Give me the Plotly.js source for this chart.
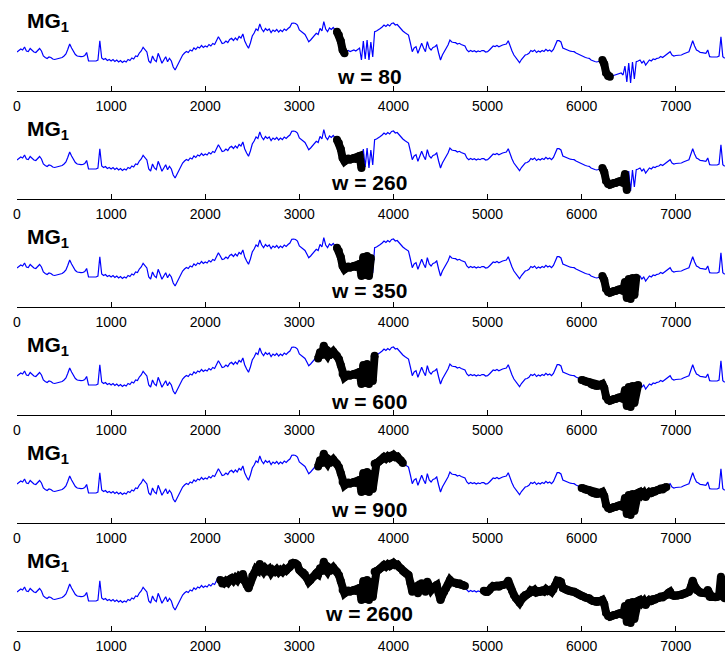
<!DOCTYPE html>
<html><head><meta charset="utf-8">
<script src="https://cdn.plot.ly/plotly-3.0.1.min.js"></script>
<style>html,body{margin:0;padding:0;background:#fff}</style>
</head><body><div id="chart" style="width:725px;height:653px"></div>
<script>
// sampled MG1 signal, one value every T_STEP time steps, starting at t = 0
const T_STEP = 20;
const signal = [
39,40.5,42,41,44,40,39.5,42.5,41,39,38.5,41,42.5,40,35,33.5,32.5,34,33.5,32,
31.5,32,32.5,32.7,33.5,35,37,41.7,47,43,39,36.5,35,34.5,34.3,34.5,35.5,38.5,30,30,
30,30,30,31,50.3,33,31.5,32.5,30.5,31.5,30,31.5,29.5,31,29,30.5,28.5,30,29,31.5,
30.5,33,32,35,34.5,38,40,43.7,41,39,30,28,35,31,29.3,37.7,33,27.7,31,34.3,
29.3,32.7,30,24,21,25,28,32,36,38,39.5,38.5,41,40,43,41.5,44,43,45.5,43.5,
45,44,46.5,45,47.5,46.5,50,54.3,51,47.5,48,50,48.5,51.5,52.7,50.5,53,51,54.5,53,
57,50,46,42.7,48,55,58,62,60.5,67,62,59.3,62.5,60.5,62,58.3,61,59.5,61.5,59,
61,59.3,62,60.5,62.5,64,67.7,68,67.5,66,61,59.3,58.5,56.5,53,49.3,51,53.5,55,57.7,
56.5,62.7,60,69.3,62,59.3,63,61.5,63.5,61,59.3,56,50,41,37.7,39.3,40.5,39.5,40.3,41,
40,41.7,43,31,50,32,51,31,49,34,59.3,60,61,62.5,64,66,64.5,66.5,65,67.5,
68,66,66.5,64,62.5,60,58.5,57,56,48,39.3,43,44.3,37.7,42,47.7,43,39.3,49.3,43,
41,43.5,44.3,46,38,31,36,39.3,42.7,46,51,49,48.5,48.3,47,47.7,46.5,46,45,41,
39.3,40.5,39.5,40.3,39,40,39.3,40.5,40.3,39,39.3,41,43.5,45,44.5,45.5,44.3,45.5,46,46.5,
47,50.3,44,40,36,33,31,28.3,31.5,34.3,36,36.5,37.7,40.5,39.5,41,38.5,40,39,40.5,
39.5,41.7,40,41,39.3,41.5,46,50.3,50.3,49,43,42,41,40.3,39.8,39.5,39.3,38,37,36,
35,34.5,33.5,33,32.7,31,30,29.5,29,29.3,30,31,27,18,15,14.3,15,16,16,17,
17.7,18,16,25,9,28,8,29,12,29.3,30,31,28,30,26,29,31,30,32,31.5,
32.7,33,34.5,33.5,35,36,38,39.3,36,35,35.5,35.5,36,36,37,37.5,38.5,39.3,44,50.3,
45,41,40,38.5,38.3,38,37.7,41,34.3,34,34,33.7,34,35,54.3,34.3,32.7
];
// window lengths and the start times of the two matched subsequences per panel
const windows = [80, 260, 350, 600, 900, 2600];
const motifStartA = [3400, 3400, 3400, 3200, 3200, 2150];
const motifStartB = [6220, 6220, 6220, 6000, 6000, 4950];
const xTicks = [0, 1000, 2000, 3000, 4000, 5000, 6000, 7000];
const seriesLabel = 'MG<sub>1</sub>';

const W = 725, H = 653;
const plotTop = 1, plotBottom = 631, left = 16.7;
const axisY = [91, 199, 307, 415, 523, 631];
const wLabelLift = [1, 3, 3, 0, 0, 4];
const panelH = 90;
const pxPerUnit = 0.09415;
const xMax = (W - left) / pxPerUnit;
const ph = plotBottom - plotTop;
const FONT = 'Liberation Sans, Arial, Helvetica, sans-serif';

const traces = [];
const layout = {
  width: W, height: H,
  margin: {l: left, r: 0, t: plotTop, b: H - plotBottom, pad: 0},
  paper_bgcolor: '#fff', plot_bgcolor: 'rgba(0,0,0,0)',
  showlegend: false,
  font: {family: FONT, color: '#000'},
  annotations: []
};

windows.forEach((w, k) => {
  const sfx = k === 0 ? '' : String(k + 1);
  const xa = 'x' + sfx, ya = 'y' + sfx;
  traces.push({type: 'scatter', mode: 'lines', x0: 0, dx: T_STEP, y: signal,
    xaxis: xa, yaxis: ya, line: {color: '#0000ff', width: 1.2}, hoverinfo: 'skip'});
  [motifStartA[k], motifStartB[k]].forEach(s => {
    const i0 = Math.round(s / T_STEP), i1 = Math.round((s + w) / T_STEP);
    traces.push({type: 'scatter', mode: 'lines+markers', x0: i0 * T_STEP, dx: T_STEP,
      y: signal.slice(i0, i1 + 1), xaxis: xa, yaxis: ya,
      line: {color: '#000', width: 8}, marker: {color: '#000', size: 8},
      hoverinfo: 'skip'});
  });
  const b = (plotBottom - axisY[k]) / ph;
  const t = Math.min(1, (plotBottom - axisY[k] + panelH) / ph);
  layout['xaxis' + sfx] = {
    domain: [0, 1], anchor: ya, range: [0, xMax],
    showline: true, linecolor: '#000', linewidth: 1, mirror: false,
    ticks: 'inside', ticklen: 5, tickwidth: 1, tickcolor: '#000',
    tickvals: xTicks, ticktext: xTicks.map(String), ticklabelstandoff: 2,
    tickfont: {size: 14, family: FONT, color: '#000'},
    showgrid: false, zeroline: false, fixedrange: true
  };
  layout['yaxis' + sfx] = {
    domain: [b, t], anchor: xa, range: [0, panelH], visible: false,
    showgrid: false, zeroline: false, fixedrange: true
  };
  layout.annotations.push({
    xref: 'paper', yref: ya, x: (25 - left) / (W - left), y: 84,
    xanchor: 'left', yanchor: 'top', showarrow: false,
    text: '<b>' + seriesLabel + '</b>', font: {size: 21, family: FONT, color: '#000'}
  });
  layout.annotations.push({
    xref: 'paper', yref: ya, x: (369 - left) / (W - left), y: wLabelLift[k],
    xanchor: 'center', yanchor: 'bottom', showarrow: false,
    text: '<b>w = ' + w + '</b>', font: {size: 21, family: FONT, color: '#000'}
  });
});

Plotly.newPlot('chart', traces, layout, {staticPlot: true, displayModeBar: false});
</script></body></html>
